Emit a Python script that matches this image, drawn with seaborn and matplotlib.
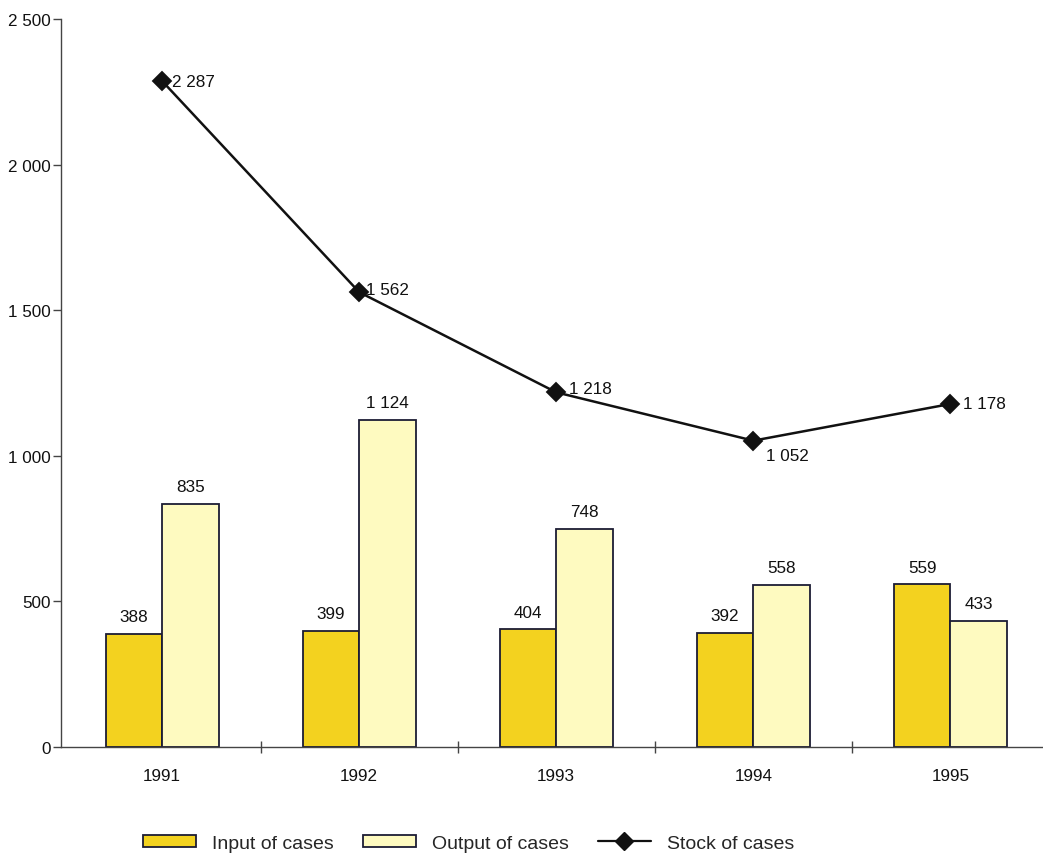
import matplotlib
matplotlib.use("Agg")
import matplotlib.pyplot as plt
import seaborn as sns
import pandas as pd
import numpy as np
from matplotlib.patches import Patch
from matplotlib.lines import Line2D
from matplotlib.ticker import FuncFormatter, FixedLocator

years = ["1991", "1992", "1993", "1994", "1995"]
input_cases = [388, 399, 404, 392, 559]
output_cases = [835, 1124, 748, 558, 433]
stock_cases = [2287, 1562, 1218, 1052, 1178]
series_names = ["Input of cases", "Output of cases", "Stock of cases"]

sns.set_theme(style="white")
plt.rcParams["font.family"] = ["Liberation Sans", "DejaVu Sans"]
plt.rcParams["font.size"] = 12.3

c_input = "#f3d21f"
c_output = "#fefac0"
edge = "#1c1c34"
FS = 12.3

bars = pd.DataFrame({
    "year": years * 2,
    "value": input_cases + output_cases,
    "series": [series_names[0]] * len(years) + [series_names[1]] * len(years),
})
line = pd.DataFrame({"year": years, "value": stock_cases})

fig = plt.figure(figsize=(10.43, 8.54), dpi=100)
ax = fig.add_axes([0.0585, 0.1241, 0.9415, 0.8525])

sns.barplot(data=bars, x="year", y="value", hue="series", order=years,
            hue_order=series_names[:2], palette=[c_input, c_output],
            width=0.574, edgecolor=edge, linewidth=1.3, saturation=1,
            legend=False, ax=ax)

sns.pointplot(data=line, x="year", y="value", order=years, color="#111111",
              markers="D", linestyles="-", markersize=9, linewidth=1.8,
              errorbar=None, ax=ax)

def fmt(v):
    return f"{int(round(v)):,}".replace(",", " ")

# value labels on bars
for cont in ax.containers:
    if hasattr(cont, "patches"):
        for p in cont.patches:
            h = p.get_height()
            ax.annotate(fmt(h), (p.get_x() + p.get_width() / 2, h),
                        xytext=(0, 7), textcoords="offset points",
                        ha="center", va="bottom", fontsize=FS, color="#111111")

offsets = [(7, 0), (5, 2), (9, 3), (9, -11), (9, 0)]
for i, v in enumerate(stock_cases):
    dx, dy = offsets[i]
    ax.annotate(fmt(v), (i, v), xytext=(dx, dy), textcoords="offset points",
                ha="left", va="center", fontsize=FS, color="#111111")

ax.set_xlim(-0.513, 4.47)
ax.set_ylim(0, 2500)
ax.set_xlabel("")
ax.set_ylabel("")
ax.set_yticks(np.arange(0, 2501, 500))
ax.yaxis.set_major_formatter(FuncFormatter(lambda v, p: fmt(v)))
ax.tick_params(axis="y", direction="out", length=6, width=1, color="#444444",
               labelsize=FS, pad=1.5, left=True, labelcolor="#111111")
ax.tick_params(axis="x", which="major", length=0, pad=15, labelsize=FS,
               labelcolor="#111111")
ax.xaxis.set_minor_locator(FixedLocator([0.5, 1.5, 2.5, 3.5]))
ax.tick_params(axis="x", which="minor", direction="inout", length=9, width=1,
               color="#444444", bottom=True)
for s in ["top", "right"]:
    ax.spines[s].set_visible(False)
for s in ["left", "bottom"]:
    ax.spines[s].set_color("#444444")
    ax.spines[s].set_linewidth(1)
ax.grid(False)

handles = [Patch(facecolor=c_input, edgecolor=edge, linewidth=1.3),
           Patch(facecolor=c_output, edgecolor=edge, linewidth=1.3),
           Line2D([0], [0], color="#111111", marker="D", markersize=9, linewidth=1.6)]
fig.legend(handles, series_names, loc="center", bbox_to_anchor=(0.449, 0.0115),
           ncol=3, frameon=False, fontsize=14, handlelength=2.75,
           handleheight=0.6, handletextpad=0.8, columnspacing=1.5)

fig.savefig("out.png", dpi=100, facecolor="white")
